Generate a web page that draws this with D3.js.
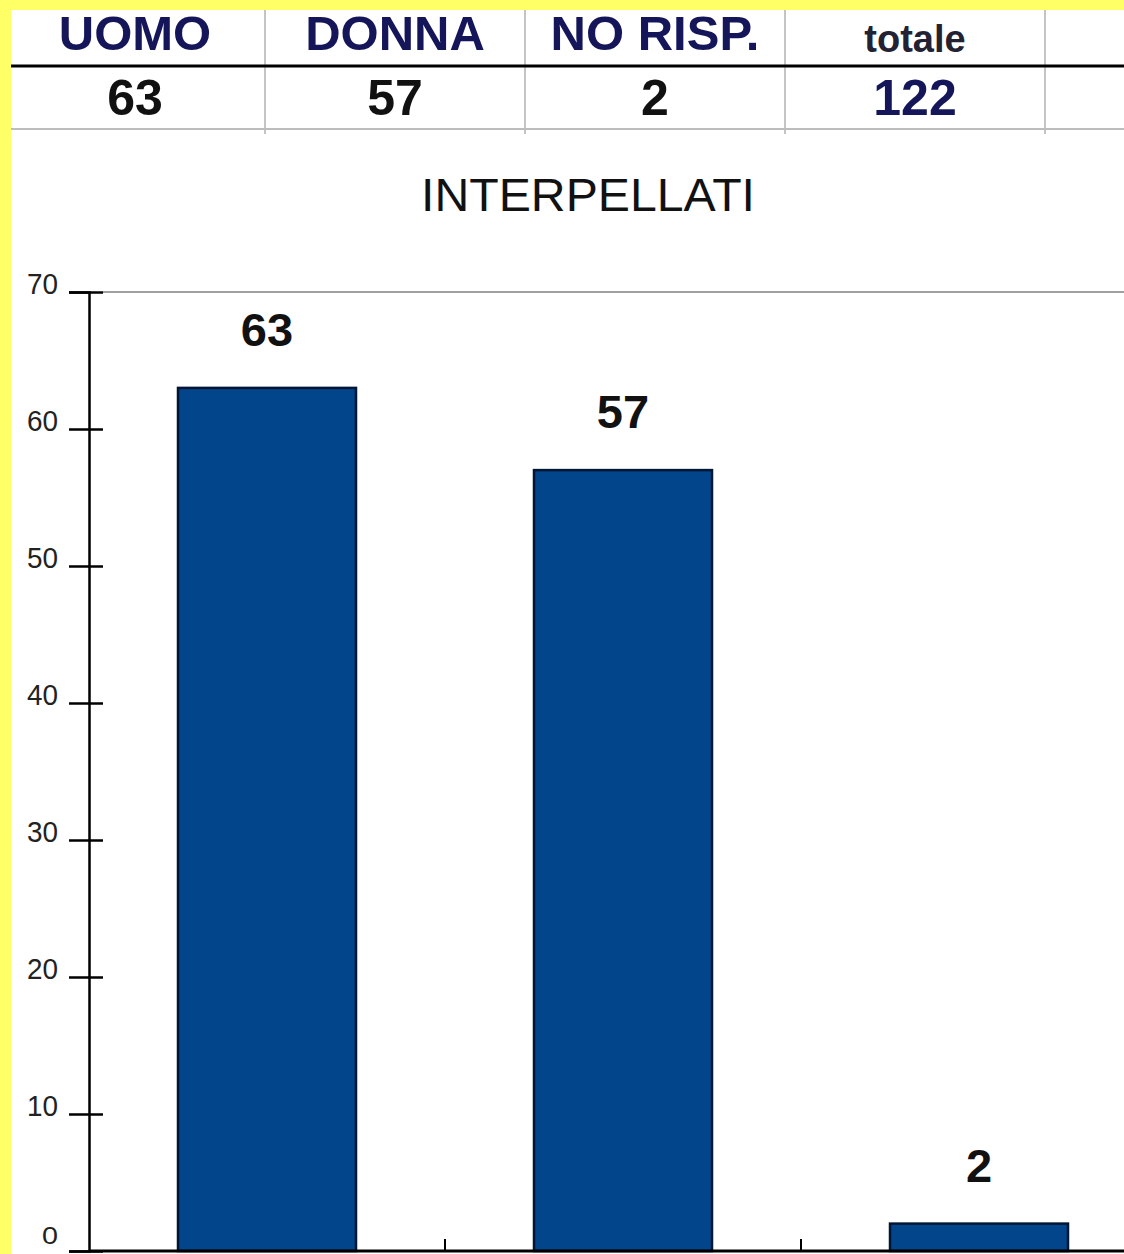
<!DOCTYPE html>
<html>
<head>
<meta charset="utf-8">
<script src="https://cdn.jsdelivr.net/npm/d3@7"></script>
<style>
  html, body { margin: 0; padding: 0; background: #ffff66; overflow: hidden; }
  svg { display: block; font-family: "Liberation Sans", Arial, sans-serif; }
</style>
</head>
<body>
<svg id="chart"></svg>
<script>
const categories = ["UOMO", "DONNA", "NO RISP."];
const values = [63, 57, 2];
const tableHeaders = ["UOMO", "DONNA", "NO RISP.", "totale"];
const tableValues = [63, 57, 2, 122];
const yTicks = [0, 10, 20, 30, 40, 50, 60, 70];
const title = "INTERPELLATI";

const width = 1124, height = 1254;

const svg = d3.select("#chart").attr("width", width).attr("height", height);

// white sheet
svg.append("rect")
  .attr("x", 11).attr("y", 10)
  .attr("width", width - 11).attr("height", height - 10)
  .attr("fill", "#fff");

// ------ table ------
const colX = d3.scaleBand()
  .domain(d3.range(tableHeaders.length))
  .range([5, 5 + 260 * tableHeaders.length]);

const table = svg.append("g").attr("class", "table");

table.selectAll("line.col")
  .data(d3.range(1, tableHeaders.length + 1))
  .join("line")
  .attr("class", "col")
  .attr("x1", (d) => colX(d - 1) + colX.bandwidth())
  .attr("x2", (d) => colX(d - 1) + colX.bandwidth())
  .attr("y1", 10).attr("y2", 134)
  .attr("stroke", "#c4c4c4")
  .attr("stroke-width", 2);

table.append("line")
  .attr("x1", 11).attr("x2", width)
  .attr("y1", 66).attr("y2", 66)
  .attr("stroke", "#000").attr("stroke-width", 3);

table.append("line")
  .attr("x1", 11).attr("x2", width)
  .attr("y1", 129).attr("y2", 129)
  .attr("stroke", "#bdbdbd").attr("stroke-width", 2);

table.selectAll("text.head")
  .data(tableHeaders)
  .join("text")
  .attr("class", "head")
  .attr("x", (d, i) => colX(i) + colX.bandwidth() / 2)
  .attr("y", (d, i) => (i === 3 ? 52 : 50))
  .attr("text-anchor", "middle")
  .attr("font-weight", "bold")
  .attr("font-size", (d, i) => (i === 3 ? 38 : 49))
  .attr("fill", (d, i) => (i === 3 ? "#222233" : "#15155a"))
  .text((d) => d);

table.selectAll("text.val")
  .data(tableValues)
  .join("text")
  .attr("class", "val")
  .attr("x", (d, i) => colX(i) + colX.bandwidth() / 2)
  .attr("y", 115)
  .attr("text-anchor", "middle")
  .attr("font-weight", "bold")
  .attr("font-size", 50)
  .attr("fill", (d, i) => (i === 3 ? "#15155a" : "#111"))
  .text((d) => d);

// ------ chart ------
svg.append("text")
  .attr("x", 588)
  .attr("y", 211)
  .attr("text-anchor", "middle")
  .attr("font-size", 46)
  .attr("fill", "#111")
  .attr("textLength", 334)
  .attr("lengthAdjust", "spacingAndGlyphs")
  .text(title);

const x = d3.scaleBand()
  .domain(categories)
  .range([89, 89 + 356 * categories.length])
  .paddingInner(0.5)
  .paddingOuter(0.25);

const y = d3.scaleLinear().domain([0, 70]).range([1251, 292]);

// plot area top border
svg.append("line")
  .attr("x1", 103).attr("x2", width)
  .attr("y1", y(70)).attr("y2", y(70))
  .attr("stroke", "#a0a0a0").attr("stroke-width", 2);

// bars
svg.append("g")
  .selectAll("rect")
  .data(values)
  .join("rect")
  .attr("x", (d, i) => x(categories[i]))
  .attr("y", (d) => y(d))
  .attr("width", x.bandwidth())
  .attr("height", (d) => y(0) - y(d))
  .attr("fill", "#02458a")
  .attr("stroke", "#001634")
  .attr("stroke-width", 2.5);

// bar labels
svg.append("g")
  .selectAll("text")
  .data(values)
  .join("text")
  .attr("x", (d, i) => x(categories[i]) + x.bandwidth() / 2)
  .attr("y", (d) => y(d) - 42)
  .attr("text-anchor", "middle")
  .attr("font-weight", "bold")
  .attr("font-size", 47)
  .attr("fill", "#111")
  .text((d) => d);

// y axis
const yAxis = svg.append("g")
  .attr("transform", "translate(89,0)")
  .call(d3.axisLeft(y).tickValues(yTicks).tickSize(20).tickPadding(10));

yAxis.select(".domain").attr("stroke", "#000").attr("stroke-width", 2.5);
yAxis.selectAll(".tick line")
  .attr("x2", -20).attr("x1", 14)
  .attr("stroke", "#000").attr("stroke-width", 2.5);
yAxis.selectAll(".tick text")
  .attr("x", -31)
  .attr("dy", "0.05em")
  .attr("font-family", "'Liberation Sans', Arial, sans-serif")
  .attr("font-size", 29)
  .attr("fill", "#222")
  .attr("textLength", 31)
  .attr("lengthAdjust", "spacingAndGlyphs");
// keep the zero label inside the page
yAxis.selectAll(".tick").filter((d) => d === 0).select("text")
  .attr("textLength", 16)
  .attr("dy", "-0.3em")
  .attr("font-size", 24);

// x axis line with category separators
const xAxis = svg.append("g")
  .attr("transform", `translate(0,${y(0)})`);

xAxis.append("line")
  .attr("x1", 89).attr("x2", width)
  .attr("stroke", "#000").attr("stroke-width", 3);

xAxis.selectAll("line.sep")
  .data(categories.slice(1))
  .join("line")
  .attr("class", "sep")
  .attr("x1", (d) => x(d) - x.step() * x.paddingInner() / 2)
  .attr("x2", (d) => x(d) - x.step() * x.paddingInner() / 2)
  .attr("y1", -12).attr("y2", 0)
  .attr("stroke", "#000").attr("stroke-width", 2);
</script>
</body>
</html>
